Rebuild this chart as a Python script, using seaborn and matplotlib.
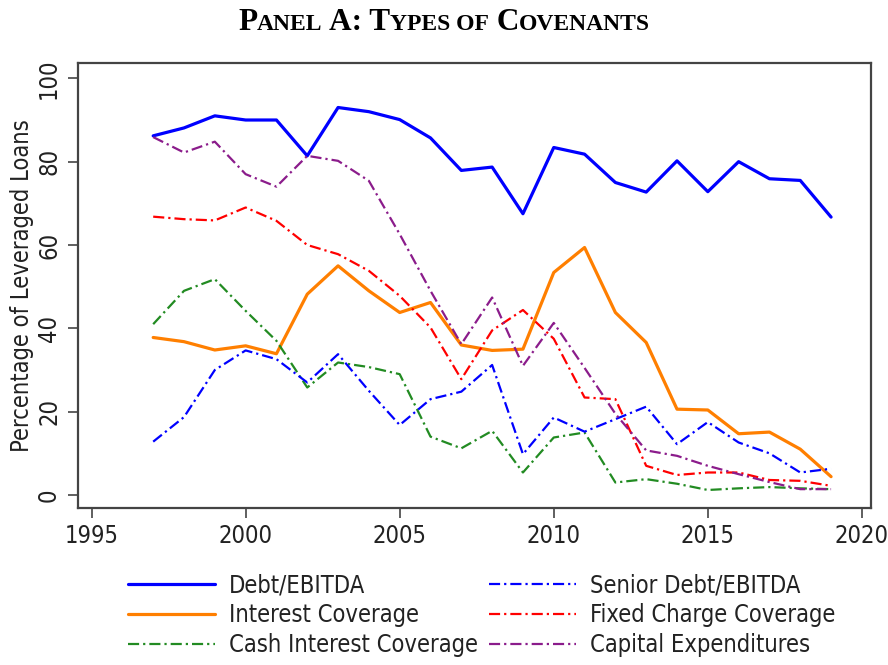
import matplotlib
matplotlib.use("Agg")
import matplotlib.pyplot as plt
import seaborn as sns
from matplotlib import font_manager

years = list(range(1997, 2020))

debt_ebitda = [86.2, 88.1, 91.0, 90.0, 90.0, 81.4, 93.0, 92.0, 90.1, 85.7, 77.9, 78.7,
               67.5, 83.4, 81.8, 75.0, 72.7, 80.2, 72.8, 80.0, 75.9, 75.5, 66.7]
interest_cov = [37.8, 36.8, 34.8, 35.8, 33.9, 48.2, 55.0, 49.0, 43.8, 46.2, 36.0, 34.7,
                35.0, 53.4, 59.4, 43.8, 36.6, 20.6, 20.4, 14.7, 15.1, 11.0, 4.4]
cash_interest_cov = [41.0, 49.0, 51.8, 44.2, 37.0, 25.8, 31.8, 30.7, 29.0, 14.0, 11.2, 15.4,
                     5.4, 13.8, 15.0, 3.0, 3.8, 2.7, 1.2, 1.6, 1.9, 1.6, 1.4]
senior_debt_ebitda = [12.8, 18.7, 30.0, 34.7, 32.6, 27.0, 33.8, 25.0, 16.8, 23.0, 24.8, 31.2,
                      9.8, 18.6, 15.2, 18.2, 21.2, 12.2, 17.5, 12.6, 10.0, 5.4, 6.3]
fixed_charge_cov = [66.8, 66.2, 65.9, 69.0, 65.8, 60.0, 57.8, 53.8, 47.8, 40.2, 27.8, 39.5,
                    44.4, 37.5, 23.4, 23.0, 7.0, 4.8, 5.4, 5.4, 3.6, 3.4, 2.2]
capex = [85.9, 82.2, 84.8, 77.0, 74.0, 81.4, 80.2, 75.4, 62.6, 49.0, 36.2, 47.4,
         31.0, 41.3, 30.5, 19.5, 10.7, 9.4, 7.0, 5.0, 3.1, 1.4, 1.4]

series = [
    ("Debt/EBITDA", debt_ebitda, "#0000ff", "-", 2.3),
    ("Interest Coverage", interest_cov, "#ff7f00", "-", 2.3),
    ("Cash Interest Coverage", cash_interest_cov, "#228b22", (0, (5, 1.8, 1, 1.8)), 1.6),
    ("Senior Debt/EBITDA", senior_debt_ebitda, "#0000ff", (0, (5, 1.8, 1, 1.8)), 1.6),
    ("Fixed Charge Coverage", fixed_charge_cov, "#ff0000", (0, (5, 1.8, 1, 1.8)), 1.6),
    ("Capital Expenditures", capex, "#8b1c8b", (0, (5, 1.8, 1, 1.8)), 1.6),
]

sns.set_theme(style="white")

# look for a narrow sans; otherwise use Liberation Sans a bit smaller
narrow = None
for f in font_manager.fontManager.ttflist:
    if "Narrow" in f.name or (f.stretch in ("condensed", "semi-condensed") and "Sans" in f.name
                              and "Mono" not in f.name and f.weight in (400, "normal")):
        narrow = f
        break
if narrow is not None:
    plt.rcParams["font.family"] = [narrow.name, "DejaVu Sans"]
    plt.rcParams["font.stretch"] = narrow.stretch
    fs = 17
else:
    plt.rcParams["font.family"] = ["Liberation Sans", "DejaVu Sans"]
    fs = 16

fig = plt.figure(figsize=(8.88, 6.65), dpi=100)
ax = fig.add_axes([0.0875, 0.2356, 0.8935, 0.6704])

for name, vals, color, ls, lw in series:
    sns.lineplot(x=years, y=vals, ax=ax, color=color, linestyle=ls, linewidth=lw, label=name)

ax.set_xlim(1994.55, 2020.3)
ax.set_ylim(-3.2, 103.8)
ax.set_xticks([1995, 2000, 2005, 2010, 2015, 2020])
ax.set_yticks([0, 20, 40, 60, 80, 100])
for s in ax.spines.values():
    s.set_color("#444444")
    s.set_linewidth(1.6)
ax.tick_params(axis="both", direction="out", length=7, width=1.2, color="#444444",
               labelsize=fs, labelcolor="#222222", bottom=True, left=True)
ax.tick_params(axis="y", pad=5)
ax.tick_params(axis="x", pad=4)
for lab in ax.get_yticklabels():
    lab.set_rotation(90)
    lab.set_va("center")
ax.set_xlabel("")
ax.set_ylabel("Percentage of Leveraged Loans", fontsize=fs, color="#222222")
ax.yaxis.set_label_coords(-0.055, 0.5)

ax.legend(loc="upper left", bbox_to_anchor=(0.052, -0.125), ncol=2, frameon=False,
          fontsize=fs, handlelength=62 / fs, handletextpad=0.6, columnspacing=0.5,
          labelspacing=0.25, borderaxespad=0, labelcolor="#222222")

# small caps title built from runs
big, small = 22.5, 17
runs = [("P", big), ("ANEL", small), (" A: T", big), ("YPES OF", small), (" C", big), ("OVENANTS", small)]
renderer = fig.canvas.get_renderer()
texts = []
x = 0.0
for s, size in runs:
    t = fig.text(x, 0.955, s, fontsize=size, fontweight="bold", family="Liberation Serif",
                 ha="left", va="baseline", color="black")
    w = t.get_window_extent(renderer).width / fig.bbox.width
    texts.append((t, x))
    x += w
start = 0.5 - x / 2
for t, xo in texts:
    t.set_x(start + xo)

fig.savefig("out.png", dpi=100)
